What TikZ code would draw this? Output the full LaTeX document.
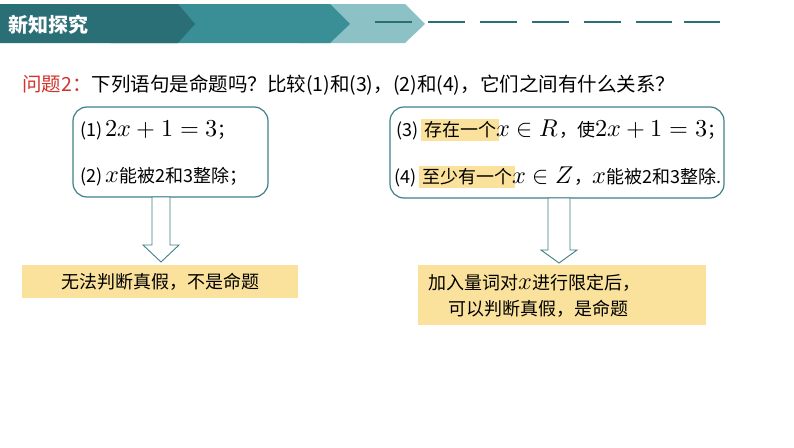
\documentclass[tikz,border=0pt]{standalone}
\usepackage{fontspec}
\usepackage{unicode-math}
\setmathfont{Latin Modern Math}
\newfontfamily\cjk{Noto Sans CJK SC}
\definecolor{tealA}{HTML}{2A6E76}
\definecolor{tealB}{HTML}{3A8F96}
\definecolor{tealC}{HTML}{8CC2C6}
\definecolor{bordc}{HTML}{3F7F86}
\definecolor{yel}{HTML}{FBE29C}
\definecolor{qred}{HTML}{D0342C}
\newcommand{\hlt}[1]{{\setlength{\fboxsep}{3pt}\colorbox{yel}{#1}}}
\newcommand{\Tf}{\cjk\fontsize{18}{20}\selectfont}
\newcommand{\mth}[1]{\scalebox{1.35}{$#1$}}
\tikzset{
  txt/.style={inner sep=0pt, anchor=west},
  rbox/.style={draw=bordc, line width=1.2pt, rounded corners=14pt},
  ybox/.style={fill=yel},
  arr/.style={draw=bordc, line width=0.9pt, fill=white},
  dashln/.style={draw=tealA, line width=1.6pt}
}
\begin{document}
\begin{tikzpicture}[x=1pt,y=-1pt]
\useasboundingbox (0,0) rectangle (794,447);
% header
\fill[tealC] (300,4) -- (405,4) -- (425,24) -- (405,43) -- (300,43) -- cycle;
\fill[tealB] (110,4) -- (330,4) -- (350,24) -- (330,43) -- (110,43) -- cycle;
\fill[tealA] (0,4) -- (178,4) -- (195,24) -- (178,43) -- (0,43) -- cycle;
\node[text=white, anchor=west] (hdr) at (5,25) {\cjk\fontsize{20}{22}\selectfont\bfseries 新知探究};
\foreach \a/\b in {375/412,428/465,480/517,532/569,584/621,636/672,684/720}
  \draw[dashln] (\a,22) -- (\b,22);
% question
\node[txt] (q) at (22,85) {\cjk\fontsize{19.5}{22}\selectfont\textcolor{qred}{问题2：}下列语句是命题吗？比较(1)和(3)，(2)和(4)，它们之间有什么关系？};
% left box
\draw[rbox] (73,107) rectangle (268,197);
\node[txt] (l1) at (80,130) {\Tf(1)\,\mth{2x+1=3}；};
\node[txt] (l2) at (80,177) {\Tf(2)\,\mth{x}能被2和3整除；};
% right box
\draw[rbox] (390,107) rectangle (724,198);
\node[txt] (r1) at (396,130) {\Tf(3)\,\hlt{存在一个}\hspace{-3pt}\mth{x\in R}，使\mth{2x+1=3}；};
\node[txt] (r2) at (394,177) {\Tf(4)\,\hlt{至少有一个}\hspace{-3pt}\mth{x\in Z}，\mth{x}能被2和3整除.};
% arrows
\draw[arr] (152,197) -- (170,197) -- (170,245) -- (179,245) -- (161,262) -- (143,245) -- (152,245) -- cycle;
\draw[arr] (548,198) -- (570,198) -- (570,250) -- (577,250) -- (559,263) -- (541,250) -- (548,250) -- cycle;
% yellow boxes
\fill[ybox] (22,265) rectangle (298,298);
\node[txt, anchor=center] (ly) at (160,282) {\Tf 无法判断真假，不是命题};
\fill[ybox] (418,265) rectangle (706,325);
\node[txt] (ry1) at (428,283) {\Tf 加入量词对\mth{x}进行限定后，};
\node[txt] (ry2) at (448,309) {\Tf 可以判断真假，是命题};
\end{tikzpicture}
\end{document}
